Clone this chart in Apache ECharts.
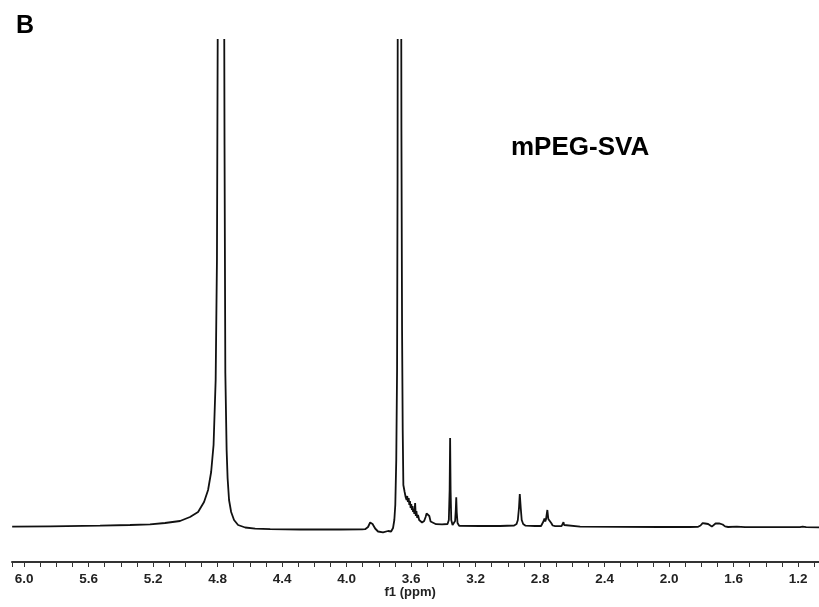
<!DOCTYPE html>
<html>
<head>
<meta charset="utf-8">
<script src="https://cdn.jsdelivr.net/npm/echarts@6/dist/echarts.min.js"></script>
<style>html,body{margin:0;padding:0;background:#fff}#c{width:819px;height:607px}</style>
</head>
<body>
<div id="c"></div>
<script>
// [chemical shift (ppm), intensity (a.u.)]
const leftBaseline = [[6.074,3.3],[5.839,3.7],[5.529,4.3],[5.343,5.0],[5.219,5.7],[5.126,7.0],[5.033,9.0],[4.971,13],[4.921,18]];
const hdoPeak = [[4.884,28],[4.859,40],[4.840,58],[4.825,85],[4.812,150],[4.804,270],[4.795,700],[4.788,1300],[4.778,2000],[4.769,1300],[4.762,700],[4.757,385],[4.752,157],[4.744,80],[4.738,52],[4.729,30],[4.716,18],[4.698,10],[4.673,5],[4.629,2.5],[4.567,1.3],[4.474,0.8]];
const midBaseline = [[4.288,0.5],[4.040,0.5],[3.904,0.6]];
const peak385 = [[3.885,0.8],[3.867,3],[3.854,7.5],[3.847,8.3],[3.839,6],[3.823,1.5],[3.805,-1.5],[3.774,-2.3],[3.743,-1]];
const pegPeak = [[3.724,-1.5],[3.712,2],[3.704,10],[3.698,25],[3.692,70],[3.687,160],[3.684,350],[3.681,800],[3.673,3000],[3.664,800],[3.660,400],[3.656,200],[3.652,100],[3.648,45]];
const multiplet358 = [[3.640,38],[3.634,33],[3.628,30],[3.624,34],[3.620,28],[3.615,32],[3.611,25],[3.607,29],[3.603,22],[3.599,26],[3.595,20],[3.591,24],[3.588,18],[3.584,21],[3.580,16],[3.575,27],[3.571,14],[3.567,19],[3.562,12],[3.557,15],[3.550,10],[3.541,8],[3.532,7.5]];
const peak350 = [[3.519,9],[3.510,13],[3.504,16.5],[3.499,17.5],[3.496,16.3],[3.492,17.3],[3.487,14],[3.479,8.5],[3.470,6.5],[3.445,5.8],[3.408,5.6]];
const singlets = [[3.374,6],[3.366,10],[3.361,40],[3.358,92],[3.355,40],[3.351,10],[3.343,5],[3.333,5],[3.327,9],[3.323,20],[3.320,32.7],[3.317,18],[3.312,7],[3.302,4.2]];
const baseline300 = [[3.172,4],[3.048,4],[2.961,4.5]];
const peak293 = [[2.946,6],[2.938,10],[2.931,22],[2.926,36],[2.920,22],[2.914,10],[2.905,6],[2.890,4.3],[2.831,4]];
const multiplet276 = [[2.794,4],[2.783,6],[2.778,9],[2.773,11.5],[2.768,8.5],[2.763,11],[2.755,20],[2.749,11],[2.743,9],[2.737,12],[2.731,7],[2.722,4.5],[2.707,3.8]];
const peak266 = [[2.667,3.8],[2.660,5],[2.655,7.8],[2.651,5],[2.644,3.6],[2.552,3.3],[2.304,3.1],[2.056,3],[1.870,3]];
const multiplet175 = [[1.820,3.2],[1.805,4.5],[1.792,6.8],[1.786,7.5],[1.777,6.5],[1.767,7.5],[1.758,6],[1.746,4],[1.735,3.4],[1.724,4],[1.712,6.5],[1.700,7.6],[1.690,6.6],[1.679,7.6],[1.668,5.5],[1.653,3.6],[1.634,3],[1.580,3.3],[1.529,2.8],[1.374,2.8]];
const rightBaseline = [[1.188,2.8],[1.172,3.3],[1.167,4.8],[1.162,3.3],[1.150,2.8],[1.070,2.7],[1.0,2.7]];

const xTickLabels = ['6.0','5.6','5.2','4.8','4.4','4.0','3.6','3.2','2.8','2.4','2.0','1.6','1.2'];
const panelLabel = 'B';
const sampleName = 'mPEG-SVA';
const axisName = 'f1 (ppm)';

const spectrum = [].concat(leftBaseline, hdoPeak, midBaseline, peak385, pegPeak,
  multiplet358, peak350, singlets, baseline300, peak293, multiplet276, peak266,
  multiplet175, rightBaseline);

const FONT = '"Liberation Sans", Arial, Helvetica, sans-serif';
const chart = echarts.init(document.getElementById('c'), null, {renderer: 'canvas'});
chart.setOption({
  animation: false,
  backgroundColor: '#ffffff',
  grid: {left: 12, top: 40, width: 818.35, height: 522, containLabel: false, outerBoundsMode: 'none'},
  xAxis: {
    type: 'value', inverse: true, min: 1.0, max: 6.075, interval: 0.1,
    name: axisName, nameLocation: 'middle', nameGap: 24, nameMoveOverlap: false,
    nameTextStyle: {fontFamily: FONT, fontWeight: 'bold', fontSize: 13, color: '#222', padding: [0, 22, 0, 0]},
    axisLine: {show: true, onZero: false, lineStyle: {color: '#333', width: 2}},
    axisTick: {show: true, length: 5, lineStyle: {color: '#333', width: 1}},
    axisLabel: {
      margin: 10, fontFamily: FONT, fontWeight: 'bold', fontSize: 13.5, color: '#222',
      formatter: function (v) {
        const s = (Math.round(v * 10) / 10).toFixed(1);
        return xTickLabels.indexOf(s) >= 0 && Math.abs(v - parseFloat(s)) < 1e-6 ? s : '';
      }
    },
    splitLine: {show: false}
  },
  yAxis: {type: 'value', min: -32, max: 490, show: false, splitLine: {show: false}},
  series: [{
    type: 'line', data: spectrum, showSymbol: false, symbol: 'none', smooth: false,
    clip: true, lineStyle: {color: '#111', width: 1.8}
  }],
  graphic: [
    {type: 'text', left: 16, top: 14, style: {text: panelLabel, font: 'bold 25px ' + FONT, fill: '#000'}},
    {type: 'text', left: 511, top: 135, style: {text: sampleName, font: 'bold 26px ' + FONT, fill: '#000'}}
  ]
});
</script>
</body>
</html>
